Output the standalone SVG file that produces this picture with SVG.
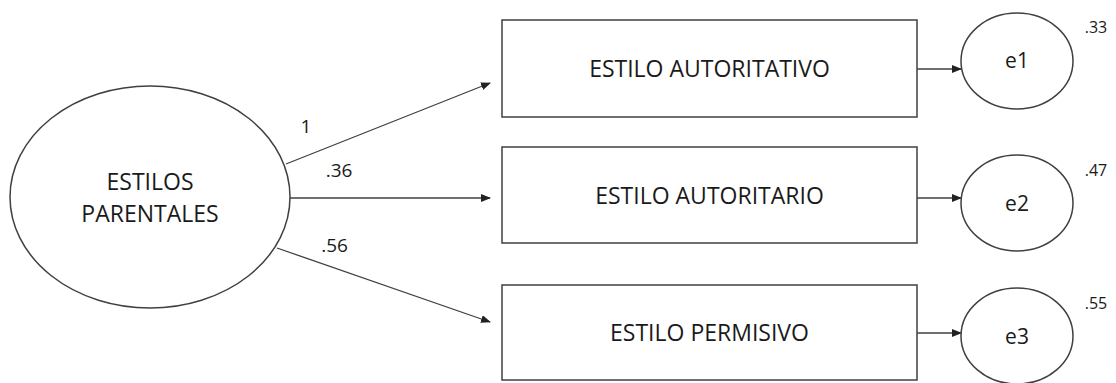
<svg xmlns="http://www.w3.org/2000/svg" width="1116" height="383" viewBox="0 0 1116 383">
<style>
.shape{fill:#fff;stroke:#404040;stroke-width:1.5}
.conn{stroke:#404040;stroke-width:1.3;fill:none;marker-end:url(#ah)}
.t{font-family:"Open Sans","Noto Sans",sans-serif;fill:#1a1a1a;text-anchor:middle}
.big{font-size:23px}
.e{font-size:21px}
.lab{font-size:19px}
.r2{font-size:16px}
</style>
<defs>
<marker id="ah" markerWidth="10" markerHeight="8" refX="9" refY="4" orient="auto" markerUnits="userSpaceOnUse">
<path d="M0,0 L10,4 L0,8 Z" fill="#222"/>
</marker>
</defs>
<rect width="1116" height="383" fill="#fff"/>
<g id="connectors">
<line class="conn" x1="286" y1="164" x2="490" y2="83"/>
<line class="conn" x1="290" y1="198" x2="490" y2="198"/>
<line class="conn" x1="277" y1="248" x2="490" y2="322"/>
<line class="conn" x1="917" y1="69" x2="961" y2="69"/>
<line class="conn" x1="917" y1="198" x2="961" y2="198"/>
<line class="conn" x1="917" y1="333" x2="961" y2="333"/>
<text class="t lab" x="306" y="133">1</text>
<text class="t lab" x="339" y="177">.36</text>
<text class="t lab" x="334.5" y="252">.56</text>
</g>
<g id="estilos-parentales">
<ellipse class="shape" cx="150" cy="197" rx="140" ry="111"/>
<text class="t big" x="150" y="190">ESTILOS</text>
<text class="t big" x="150" y="222">PARENTALES</text>
</g>
<g id="estilo-autoritativo">
<rect class="shape" x="502" y="20" width="415" height="97"/>
<text class="t big" x="709.5" y="77">ESTILO AUTORITATIVO</text>
</g>
<g id="estilo-autoritario">
<rect class="shape" x="502" y="147" width="415" height="96"/>
<text class="t big" x="709.5" y="204">ESTILO AUTORITARIO</text>
</g>
<g id="estilo-permisivo">
<rect class="shape" x="502" y="285" width="415" height="95"/>
<text class="t big" x="709.5" y="341">ESTILO PERMISIVO</text>
</g>
<g id="e1">
<ellipse class="shape" cx="1017" cy="61" rx="56" ry="48"/>
<text class="t e" x="1017" y="68">e1</text>
<text class="t r2" x="1096" y="33">.33</text>
</g>
<g id="e2">
<ellipse class="shape" cx="1017" cy="203" rx="56" ry="48"/>
<text class="t e" x="1017" y="211">e2</text>
<text class="t r2" x="1096" y="176">.47</text>
</g>
<g id="e3">
<ellipse class="shape" cx="1017" cy="336" rx="56" ry="48"/>
<text class="t e" x="1017" y="344">e3</text>
<text class="t r2" x="1096" y="309">.55</text>
</g>
</svg>
